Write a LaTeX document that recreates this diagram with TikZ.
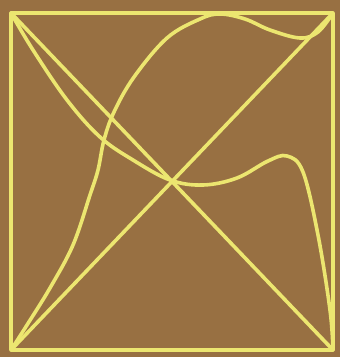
\documentclass[tikz,border=0pt]{standalone}
\begin{document}
\begin{tikzpicture}[x=1pt,y=-1pt,
  yl/.style={draw=linecol,line width=3.6pt,line cap=round,line join=round}]
\definecolor{bg}{RGB}{152,112,66}
\definecolor{linecol}{RGB}{236,230,112}
\fill[bg] (0,0) rectangle (340,357);
\useasboundingbox (0,0) rectangle (340,357);
\coordinate (TL) at (11,13);
\coordinate (TR) at (333,13);
\coordinate (BL) at (11,350);
\coordinate (BR) at (333,350);
\draw[yl] (TL) -- (TR) -- (BR) -- (BL) -- cycle;
\draw[yl] (TL) -- (BR);
\draw[yl] (BL) -- (TR);
\draw[yl] plot[smooth,tension=0.6] coordinates {(11,13) (33,50) (67,100) (100,137) (133,160) (170,180) (203,185) (237,178) (268,161) (287,156) (303,172) (318,235) (330,310) (333,350)};
\draw[yl] plot[smooth,tension=0.6] coordinates {(11,350) (27,325) (50,288) (73,245) (90,195) (98,170) (104,140) (114,112) (134,77) (167,38) (200,19) (220,14) (245,19) (270,30) (300,38) (318,32) (333,13)};
\end{tikzpicture}
\end{document}
